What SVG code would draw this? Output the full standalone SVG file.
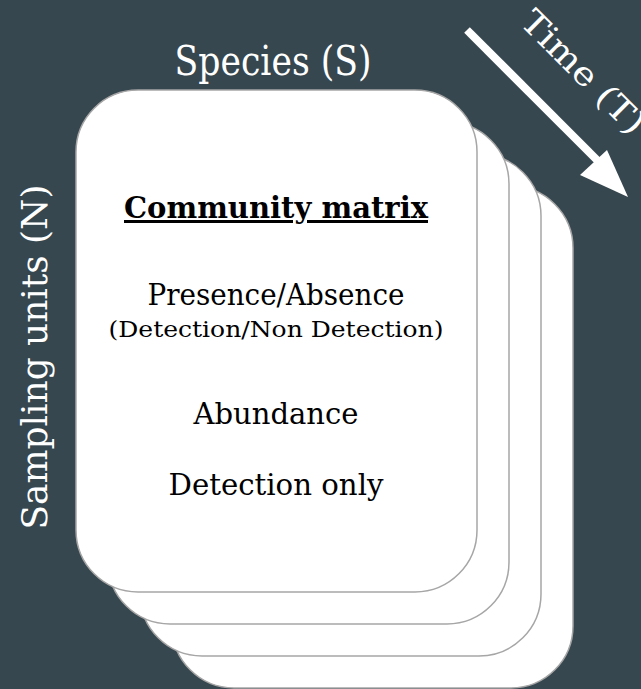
<svg xmlns="http://www.w3.org/2000/svg" width="641" height="689" viewBox="0 0 641 689">
<style>
.card{fill:#fff;stroke:#a6a6a6;stroke-width:1.5}
.w{fill:#fff;font-family:"DejaVu Serif","Liberation Serif",serif;text-anchor:middle}
.b{fill:#000;font-family:"DejaVu Serif","Liberation Serif",serif;text-anchor:middle}
</style>
<rect width="641" height="689" fill="#37474f"/>
<g id="card4"><rect class="card" x="172" y="186" width="401" height="502" rx="62"/></g>
<g id="card3"><rect class="card" x="140" y="154" width="401" height="502" rx="62"/></g>
<g id="card2"><rect class="card" x="108" y="122" width="401" height="502" rx="62"/></g>
<g id="card1">
<rect class="card" x="76" y="90" width="401" height="502" rx="62"/>
<text class="b" x="276" y="218" font-size="30" font-weight="bold" text-decoration="underline" textLength="304" lengthAdjust="spacingAndGlyphs">Community matrix</text>
<text class="b" x="276" y="305" font-size="29" textLength="257" lengthAdjust="spacingAndGlyphs">Presence/Absence</text>
<text class="b" x="276" y="337" font-size="23" textLength="335" lengthAdjust="spacingAndGlyphs">(Detection/Non Detection)</text>
<text class="b" x="276" y="424" font-size="29" textLength="165" lengthAdjust="spacingAndGlyphs">Abundance</text>
<text class="b" x="276" y="495" font-size="29" textLength="215" lengthAdjust="spacingAndGlyphs">Detection only</text>
</g>
<g id="species"><text class="w" x="273" y="75" font-size="41" textLength="197" lengthAdjust="spacingAndGlyphs">Species (S)</text></g>
<g id="sampling"><text class="w" font-size="35" transform="translate(47,357) rotate(-90)" textLength="345" lengthAdjust="spacingAndGlyphs">Sampling units (N)</text></g>
<g id="time"><text class="w" font-size="33" transform="translate(575,80) rotate(45)" textLength="160" lengthAdjust="spacingAndGlyphs">Time (T)</text></g>
<g id="connectors">
<line x1="467" y1="30" x2="598" y2="161" stroke="#fff" stroke-width="8"/>
<polygon points="628,197 580,175 607,150" fill="#fff"/>
</g>
</svg>
